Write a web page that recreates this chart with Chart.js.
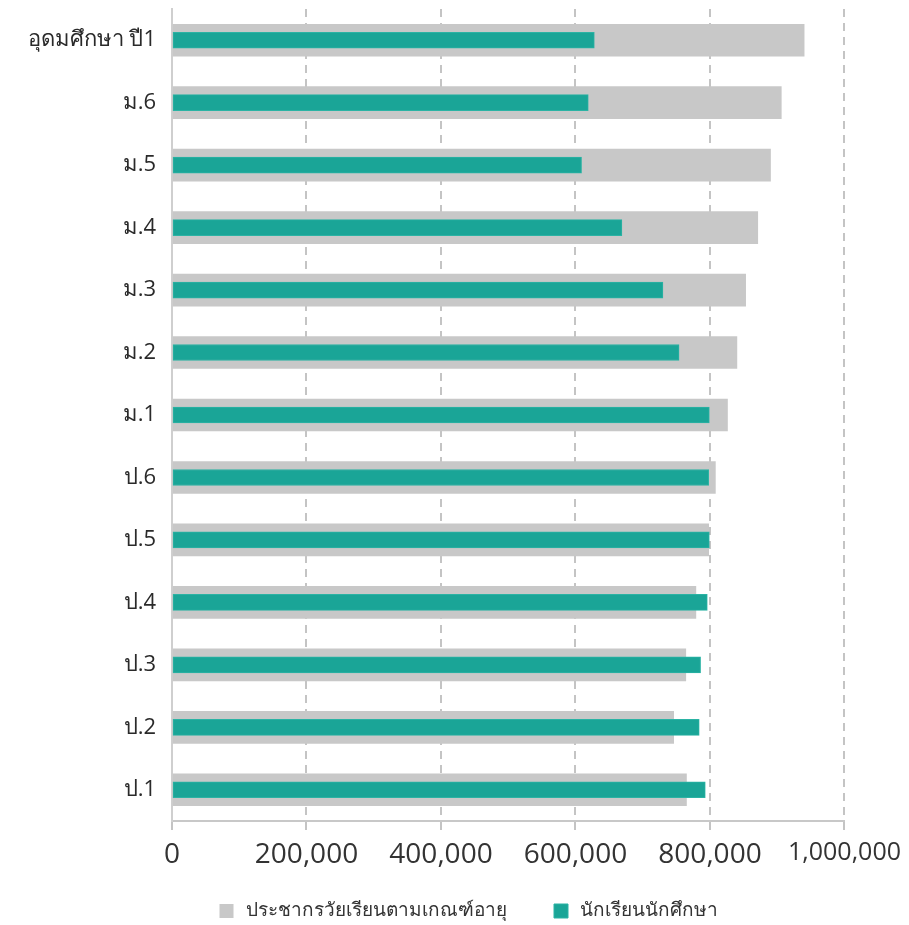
<!DOCTYPE html>
<html>
<head>
<meta charset="utf-8">
<script src="https://cdn.jsdelivr.net/npm/chart.js@4"></script>
<style>
  html, body { margin: 0; padding: 0; background: #fff; }
  #wrap { width: 909px; height: 925px; position: relative; }
</style>
</head>
<body>
<div id="wrap"><canvas id="c"></canvas></div>
<script>
const categories = ['อุดมศึกษา ปี1', 'ม.6', 'ม.5', 'ม.4', 'ม.3', 'ม.2', 'ม.1', 'ป.6', 'ป.5', 'ป.4', 'ป.3', 'ป.2', 'ป.1'];
const populationByAge = [940000, 906000, 890000, 871000, 853000, 840000, 826000, 808000, 798000, 779000, 764000, 746000, 765000];
const students = [628000, 619000, 609000, 669000, 730000, 754000, 799000, 798000, 799000, 796000, 786000, 784000, 793000];
const xTicks = [0, 200000, 400000, 600000, 800000, 1000000];
const seriesNames = ['ประชากรวัยเรียนตามเกณฑ์อายุ', 'นักเรียนนักศึกษา'];

const FONT = "'Open Sans', 'Noto Sans', sans-serif";

new Chart(document.getElementById('c'), {
  type: 'bar',
  data: {
    labels: categories,
    datasets: [
      {
        label: seriesNames[0],
        data: populationByAge,
        backgroundColor: '#c8c8c8',
        borderWidth: 0,
        barThickness: 32,
        grouped: false,
        order: 2
      },
      {
        label: seriesNames[1],
        data: students,
        backgroundColor: '#1aa597',
        borderColor: '#2bb3a4',
        borderWidth: 1,
        borderSkipped: false,
        barThickness: 16,
        grouped: false,
        order: 1
      }
    ]
  },
  options: {
    indexAxis: 'y',
    responsive: true,
    maintainAspectRatio: false,
    animation: false,
    layout: { padding: { top: 9, right: 64, left: 0, bottom: 0 } },
    plugins: {
      tooltip: { enabled: false },
      legend: {
        position: 'bottom',
        fullSize: false,
        align: 'start',
        maxHeight: 68.5,
        labels: {
          sort: (a, b) => a.datasetIndex - b.datasetIndex,
          usePointStyle: true,
          pointStyle: 'rect',
          boxWidth: 19,
          boxHeight: 14,
          padding: 45,
          color: '#333',
          font: { family: FONT, size: 19 }
        }
      }
    },
    scales: {
      x: {
        min: 0,
        max: 1000000,
        afterBuildTicks: (scale) => { scale.ticks = xTicks.map(v => ({ value: v })); },
        afterFit: (scale) => {
          scale.height = 35.5;
          scale._computeLabelArea = () => undefined;
        },
        ticks: {
          color: '#333',
          padding: 8,
          font: (ctx) => ({ family: FONT, size: ctx.index === xTicks.length - 1 ? 25 : 28 }),
          callback: (v) => Number(v).toLocaleString('en-US')
        },
        grid: {
          color: '#c4c4c4',
          lineWidth: 2,
          tickLength: 9,
          tickColor: '#c4c4c4'
        },
        border: { display: true, color: '#c8c8c8', width: 2, dash: [8, 6] }
      },
      y: {
        ticks: {
          color: '#2a2a2a',
          padding: 16,
          font: { family: FONT, size: 22 }
        },
        grid: { display: false, drawTicks: false },
        border: { display: true, color: '#cfcfcf', width: 2 },
        afterFit: (scale) => { scale.width = 172; scale.paddingTop = 0; scale.paddingBottom = 0; }
      }
    }
  }
});
</script>
</body>
</html>
